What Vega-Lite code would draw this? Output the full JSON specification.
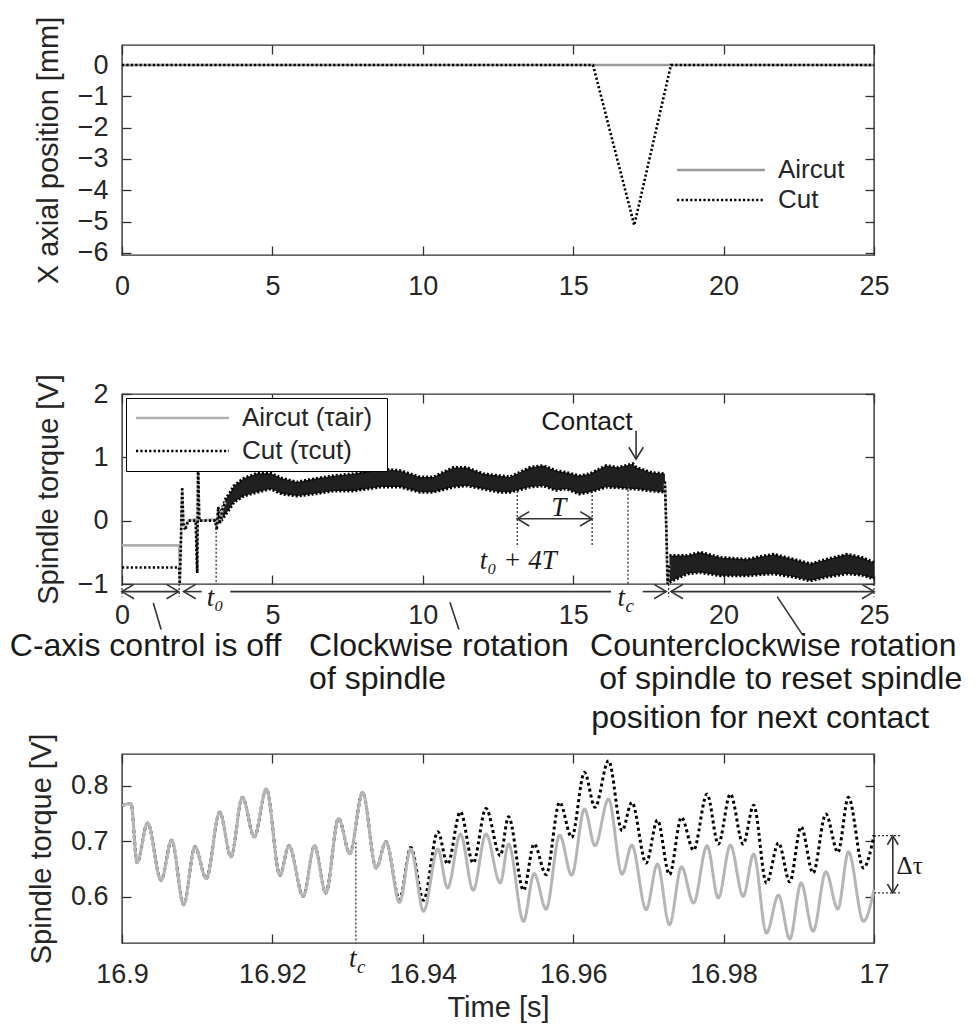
{
  "$schema": "https://vega.github.io/schema/vega-lite/v6.json",
  "background": "white",
  "padding": {"left": 9, "top": 15, "right": 5, "bottom": 5},
  "spacing": -4,
  "config": {
    "font": "Liberation Sans",
    "view": {"stroke": "#303030", "strokeWidth": 1.4},
    "axis": {
      "domain": false, "grid": false, "ticks": true,
      "tickColor": "#303030", "tickWidth": 1.3, "tickSize": -9,
      "labelFont": "Liberation Sans", "labelFontSize": 27, "labelColor": "#262626",
      "labelFlush": false, "labelOverlap": false, "labelBound": false,
      "titleFont": "Liberation Sans", "titleFontSize": 29, "titleFontWeight": "normal", "titleColor": "#262626"
    },
    "axisX": {"labelPadding": 27},
    "axisY": {"labelPadding": 23, "titlePadding": 14},
    "legend": {"labelFont": "Liberation Sans", "labelColor": "#262626"}
  },
  "resolve": {"scale": {"x": "independent", "y": "independent", "color": "independent", "strokeDash": "independent"}},
  "datasets": {
    "p1": [
      {"t": 0, "pos": 0, "s": "Aircut"}, {"t": 25, "pos": 0, "s": "Aircut"},
      {"t": 0, "pos": 0, "s": "Cut"}, {"t": 15.66, "pos": 0, "s": "Cut"}, {"t": 17.03, "pos": -5.12, "s": "Cut"}, {"t": 18.25, "pos": 0, "s": "Cut"}, {"t": 25, "pos": 0, "s": "Cut"}
    ],
    "p2lines": [
      {"t": 0, "v": -0.39, "s": "Aircut", "seg": "a"}, {"t": 1.9, "v": -0.39, "s": "Aircut", "seg": "a"}, {"t": 1.92, "v": -0.98, "s": "Aircut", "seg": "a"}, {"t": 1.96, "v": -0.3, "s": "Aircut", "seg": "a"}, {"t": 2.0, "v": 0.5, "s": "Aircut", "seg": "a"}, {"t": 2.04, "v": -0.05, "s": "Aircut", "seg": "a"}, {"t": 2.1, "v": -0.1, "s": "Aircut", "seg": "a"}, {"t": 2.2, "v": 0.0, "s": "Aircut", "seg": "a"}, {"t": 2.45, "v": 0.02, "s": "Aircut", "seg": "a"}, {"t": 2.5, "v": -0.8, "s": "Aircut", "seg": "a"}, {"t": 2.53, "v": 0.87, "s": "Aircut", "seg": "a"}, {"t": 2.57, "v": 0.0, "s": "Aircut", "seg": "a"}, {"t": 3.1, "v": 0.02, "s": "Aircut", "seg": "a"}, {"t": 3.15, "v": -0.1, "s": "Aircut", "seg": "a"}, {"t": 3.2, "v": 0.2, "s": "Aircut", "seg": "a"}, {"t": 3.25, "v": -0.05, "s": "Aircut", "seg": "a"}, {"t": 3.35, "v": 0.2, "s": "Aircut", "seg": "a"}, {"t": 3.45, "v": 0.3, "s": "Aircut", "seg": "a"},
      {"t": 18.05, "v": 0.6, "s": "Aircut", "seg": "b"}, {"t": 18.1, "v": -0.2, "s": "Aircut", "seg": "b"}, {"t": 18.13, "v": -1.0, "s": "Aircut", "seg": "b"}, {"t": 18.2, "v": -0.7, "s": "Aircut", "seg": "b"},
      {"t": 0, "v": -0.74, "s": "Cut", "seg": "a"}, {"t": 1.9, "v": -0.74, "s": "Cut", "seg": "a"}, {"t": 1.92, "v": -1.0, "s": "Cut", "seg": "a"}, {"t": 1.96, "v": -0.3, "s": "Cut", "seg": "a"}, {"t": 2.0, "v": 0.53, "s": "Cut", "seg": "a"}, {"t": 2.04, "v": -0.05, "s": "Cut", "seg": "a"}, {"t": 2.1, "v": -0.15, "s": "Cut", "seg": "a"}, {"t": 2.2, "v": 0.0, "s": "Cut", "seg": "a"}, {"t": 2.45, "v": 0.0, "s": "Cut", "seg": "a"}, {"t": 2.5, "v": -0.83, "s": "Cut", "seg": "a"}, {"t": 2.53, "v": 0.88, "s": "Cut", "seg": "a"}, {"t": 2.57, "v": 0.0, "s": "Cut", "seg": "a"}, {"t": 3.1, "v": 0.0, "s": "Cut", "seg": "a"}, {"t": 3.15, "v": -0.15, "s": "Cut", "seg": "a"}, {"t": 3.2, "v": 0.22, "s": "Cut", "seg": "a"}, {"t": 3.25, "v": -0.05, "s": "Cut", "seg": "a"}, {"t": 3.35, "v": 0.2, "s": "Cut", "seg": "a"}, {"t": 3.45, "v": 0.3, "s": "Cut", "seg": "a"},
      {"t": 18.05, "v": 0.62, "s": "Cut", "seg": "b"}, {"t": 18.1, "v": -0.2, "s": "Cut", "seg": "b"}, {"t": 18.14, "v": -1.0, "s": "Cut", "seg": "b"}, {"t": 18.2, "v": -0.7, "s": "Cut", "seg": "b"}
    ],
    "p2band": [
      {"t": 3.3, "lo": 0.0, "hi": 0.15, "seg": "a"}, {"t": 3.45, "lo": 0.1, "hi": 0.35, "seg": "a"}, {"t": 3.6, "lo": 0.2, "hi": 0.45, "seg": "a"}, {"t": 3.72, "lo": 0.29, "hi": 0.55, "seg": "a"}, {"t": 4.05, "lo": 0.39, "hi": 0.67, "seg": "a"}, {"t": 4.5, "lo": 0.45, "hi": 0.75, "seg": "a"}, {"t": 4.94, "lo": 0.5, "hi": 0.75, "seg": "a"}, {"t": 5.32, "lo": 0.42, "hi": 0.67, "seg": "a"}, {"t": 5.82, "lo": 0.39, "hi": 0.61, "seg": "a"}, {"t": 6.37, "lo": 0.42, "hi": 0.66, "seg": "a"}, {"t": 7.04, "lo": 0.47, "hi": 0.71, "seg": "a"}, {"t": 7.7, "lo": 0.47, "hi": 0.74, "seg": "a"}, {"t": 8.59, "lo": 0.53, "hi": 0.82, "seg": "a"}, {"t": 9.25, "lo": 0.53, "hi": 0.79, "seg": "a"}, {"t": 9.91, "lo": 0.45, "hi": 0.69, "seg": "a"}, {"t": 10.35, "lo": 0.45, "hi": 0.69, "seg": "a"}, {"t": 11.02, "lo": 0.53, "hi": 0.84, "seg": "a"}, {"t": 11.46, "lo": 0.55, "hi": 0.84, "seg": "a"}, {"t": 12.01, "lo": 0.5, "hi": 0.74, "seg": "a"}, {"t": 12.56, "lo": 0.45, "hi": 0.71, "seg": "a"}, {"t": 12.9, "lo": 0.45, "hi": 0.69, "seg": "a"}, {"t": 13.56, "lo": 0.53, "hi": 0.84, "seg": "a"}, {"t": 14.0, "lo": 0.55, "hi": 0.87, "seg": "a"}, {"t": 14.43, "lo": 0.48, "hi": 0.79, "seg": "a"}, {"t": 14.78, "lo": 0.5, "hi": 0.76, "seg": "a"}, {"t": 15.2, "lo": 0.42, "hi": 0.71, "seg": "a"}, {"t": 15.55, "lo": 0.45, "hi": 0.74, "seg": "a"}, {"t": 16.1, "lo": 0.53, "hi": 0.87, "seg": "a"}, {"t": 16.5, "lo": 0.52, "hi": 0.84, "seg": "a"}, {"t": 16.98, "lo": 0.5, "hi": 0.9, "seg": "a"}, {"t": 17.1, "lo": 0.5, "hi": 0.84, "seg": "a"}, {"t": 17.6, "lo": 0.47, "hi": 0.76, "seg": "a"}, {"t": 18.05, "lo": 0.45, "hi": 0.74, "seg": "a"},
      {"t": 18.2, "lo": -0.97, "hi": -0.55, "seg": "b"}, {"t": 18.3, "lo": -0.95, "hi": -0.55, "seg": "b"}, {"t": 18.79, "lo": -0.84, "hi": -0.55, "seg": "b"}, {"t": 19.23, "lo": -0.82, "hi": -0.5, "seg": "b"}, {"t": 19.9, "lo": -0.87, "hi": -0.58, "seg": "b"}, {"t": 20.78, "lo": -0.87, "hi": -0.61, "seg": "b"}, {"t": 21.3, "lo": -0.85, "hi": -0.56, "seg": "b"}, {"t": 21.67, "lo": -0.84, "hi": -0.53, "seg": "b"}, {"t": 22.33, "lo": -0.89, "hi": -0.61, "seg": "b"}, {"t": 22.88, "lo": -0.95, "hi": -0.68, "seg": "b"}, {"t": 23.44, "lo": -0.89, "hi": -0.61, "seg": "b"}, {"t": 24.1, "lo": -0.84, "hi": -0.53, "seg": "b"}, {"t": 24.6, "lo": -0.86, "hi": -0.58, "seg": "b"}, {"t": 25.0, "lo": -0.92, "hi": -0.66, "seg": "b"}
    ],
    "p2dot": [
      {"x": 3.13, "y": -0.05, "y2": -1}, {"x": 13.14, "y": 0.47, "y2": -0.42}, {"x": 15.63, "y": 0.47, "y2": -0.42}, {"x": 16.82, "y": 0.55, "y2": -1},
      {"x": 0, "y": -1, "y2": -1.2}, {"x": 1.9, "y": -1, "y2": -1.2}, {"x": 18.17, "y": -1, "y2": -1.2}, {"x": 25, "y": -1, "y2": -1.2}
    ],
    "p2sol": [
      {"x": 0, "x2": 1.88, "y": -1.12, "y2": -1.12}, {"x": 2.05, "x2": 2.65, "y": -1.12, "y2": -1.12}, {"x": 3.6, "x2": 16.26, "y": -1.12, "y2": -1.12}, {"x": 17.31, "x2": 18.09, "y": -1.12, "y2": -1.12}, {"x": 18.25, "x2": 25, "y": -1.12, "y2": -1.12},
      {"x": 13.14, "x2": 15.63, "y": 0.03, "y2": 0.03}, {"x": 17.09, "x2": 17.09, "y": 1.42, "y2": 0.98},
      {"x": 1.04, "x2": 1.3, "y": -1.3, "y2": -1.72}, {"x": 10.9, "x2": 11.2, "y": -1.29, "y2": -1.72}, {"x": 21.78, "x2": 22.62, "y": -1.2, "y2": -1.8}
    ],
    "p2heads": [
      {"x": 0, "y": -1.12, "dir": "left"}, {"x": 1.88, "y": -1.12, "dir": "right"}, {"x": 2.05, "y": -1.12, "dir": "left"}, {"x": 18.09, "y": -1.12, "dir": "right"}, {"x": 18.25, "y": -1.12, "dir": "left"}, {"x": 25, "y": -1.12, "dir": "right"},
      {"x": 13.14, "y": 0.03, "dir": "left"}, {"x": 15.63, "y": 0.03, "dir": "right"}, {"x": 17.09, "y": 0.97, "dir": "down"}
    ],
    "p2big": [
      {"x": -3.73, "y": -2.13, "label": "C-axis control is off"},
      {"x": 6.22, "y": -2.13, "label": "Clockwise rotation"},
      {"x": 6.22, "y": -2.665, "label": "of spindle"},
      {"x": 15.56, "y": -2.13, "label": "Counterclockwise rotation"},
      {"x": 15.87, "y": -2.665, "label": "of spindle to reset spindle"},
      {"x": 15.6, "y": -3.28, "label": "position for next contact"}
    ],
    "p2math": [
      {"x": 2.82, "y": -1.342, "label": "t₀", "sub": ""},
      {"x": 14.27, "y": 0.079, "label": "T", "sub": ""},
      {"x": 11.89, "y": -0.763, "label": "t₀ + 4T", "sub": ""},
      {"x": 16.47, "y": -1.342, "label": "t", "sub": "c"}
    ],
    "p3": [
      {"t": 16.9, "v": 0.764, "s": "Cut"}, {"t": 16.9012, "v": 0.768, "s": "Cut"}, {"t": 16.902, "v": 0.6615, "s": "Cut"}, {"t": 16.9034, "v": 0.733, "s": "Cut"}, {"t": 16.9052, "v": 0.63, "s": "Cut"}, {"t": 16.9066, "v": 0.702, "s": "Cut"}, {"t": 16.9082, "v": 0.586, "s": "Cut"}, {"t": 16.9097, "v": 0.69, "s": "Cut"}, {"t": 16.9112, "v": 0.633, "s": "Cut"}, {"t": 16.913, "v": 0.752, "s": "Cut"}, {"t": 16.9145, "v": 0.672, "s": "Cut"}, {"t": 16.916, "v": 0.779, "s": "Cut"}, {"t": 16.9176, "v": 0.708, "s": "Cut"}, {"t": 16.9192, "v": 0.794, "s": "Cut"}, {"t": 16.921, "v": 0.639, "s": "Cut"}, {"t": 16.9222, "v": 0.692, "s": "Cut"}, {"t": 16.9241, "v": 0.601, "s": "Cut"}, {"t": 16.9256, "v": 0.692, "s": "Cut"}, {"t": 16.9271, "v": 0.607, "s": "Cut"}, {"t": 16.9288, "v": 0.741, "s": "Cut"}, {"t": 16.9303, "v": 0.678, "s": "Cut"}, {"t": 16.932, "v": 0.788, "s": "Cut"}, {"t": 16.9338, "v": 0.652, "s": "Cut"}, {"t": 16.9351, "v": 0.699, "s": "Cut"},
      {"t": 16.9369, "v": 0.595, "s": "Cut"}, {"t": 16.9384, "v": 0.689, "s": "Cut"}, {"t": 16.9401, "v": 0.594, "s": "Cut"}, {"t": 16.942, "v": 0.717, "s": "Cut"}, {"t": 16.9433, "v": 0.659, "s": "Cut"}, {"t": 16.945, "v": 0.753, "s": "Cut"}, {"t": 16.9467, "v": 0.661, "s": "Cut"}, {"t": 16.9484, "v": 0.759, "s": "Cut"}, {"t": 16.9503, "v": 0.674, "s": "Cut"}, {"t": 16.9514, "v": 0.744, "s": "Cut"}, {"t": 16.9534, "v": 0.612, "s": "Cut"}, {"t": 16.9548, "v": 0.695, "s": "Cut"}, {"t": 16.9564, "v": 0.64, "s": "Cut"}, {"t": 16.9582, "v": 0.77, "s": "Cut"}, {"t": 16.9598, "v": 0.707, "s": "Cut"}, {"t": 16.9615, "v": 0.824, "s": "Cut"}, {"t": 16.9629, "v": 0.761, "s": "Cut"}, {"t": 16.9647, "v": 0.845, "s": "Cut"}, {"t": 16.9665, "v": 0.719, "s": "Cut"}, {"t": 16.9678, "v": 0.77, "s": "Cut"}, {"t": 16.9697, "v": 0.661, "s": "Cut"}, {"t": 16.9712, "v": 0.738, "s": "Cut"}, {"t": 16.9728, "v": 0.64, "s": "Cut"}, {"t": 16.9744, "v": 0.743, "s": "Cut"}, {"t": 16.976, "v": 0.684, "s": "Cut"}, {"t": 16.9778, "v": 0.785, "s": "Cut"}, {"t": 16.9793, "v": 0.695, "s": "Cut"}, {"t": 16.9809, "v": 0.785, "s": "Cut"}, {"t": 16.9826, "v": 0.695, "s": "Cut"}, {"t": 16.984, "v": 0.765, "s": "Cut"}, {"t": 16.9857, "v": 0.625, "s": "Cut"}, {"t": 16.9873, "v": 0.697, "s": "Cut"}, {"t": 16.9888, "v": 0.627, "s": "Cut"}, {"t": 16.9903, "v": 0.726, "s": "Cut"}, {"t": 16.9919, "v": 0.643, "s": "Cut"}, {"t": 16.9936, "v": 0.749, "s": "Cut"}, {"t": 16.9952, "v": 0.68, "s": "Cut"}, {"t": 16.9966, "v": 0.779, "s": "Cut"}, {"t": 16.9986, "v": 0.652, "s": "Cut"}, {"t": 17.0, "v": 0.711, "s": "Cut"},
      {"t": 16.9, "v": 0.764, "s": "Aircut"}, {"t": 16.9012, "v": 0.768, "s": "Aircut"}, {"t": 16.902, "v": 0.6615, "s": "Aircut"}, {"t": 16.9034, "v": 0.733, "s": "Aircut"}, {"t": 16.9052, "v": 0.63, "s": "Aircut"}, {"t": 16.9066, "v": 0.702, "s": "Aircut"}, {"t": 16.9082, "v": 0.586, "s": "Aircut"}, {"t": 16.9097, "v": 0.69, "s": "Aircut"}, {"t": 16.9112, "v": 0.633, "s": "Aircut"}, {"t": 16.913, "v": 0.752, "s": "Aircut"}, {"t": 16.9145, "v": 0.672, "s": "Aircut"}, {"t": 16.916, "v": 0.779, "s": "Aircut"}, {"t": 16.9176, "v": 0.708, "s": "Aircut"}, {"t": 16.9192, "v": 0.794, "s": "Aircut"}, {"t": 16.921, "v": 0.639, "s": "Aircut"}, {"t": 16.9222, "v": 0.692, "s": "Aircut"}, {"t": 16.9241, "v": 0.601, "s": "Aircut"}, {"t": 16.9256, "v": 0.692, "s": "Aircut"}, {"t": 16.9271, "v": 0.607, "s": "Aircut"}, {"t": 16.9288, "v": 0.741, "s": "Aircut"}, {"t": 16.9303, "v": 0.678, "s": "Aircut"}, {"t": 16.932, "v": 0.788, "s": "Aircut"}, {"t": 16.9338, "v": 0.652, "s": "Aircut"}, {"t": 16.9351, "v": 0.699, "s": "Aircut"},
      {"t": 16.9369, "v": 0.59, "s": "Aircut"}, {"t": 16.9384, "v": 0.686, "s": "Aircut"}, {"t": 16.9401, "v": 0.574, "s": "Aircut"}, {"t": 16.942, "v": 0.686, "s": "Aircut"}, {"t": 16.9433, "v": 0.616, "s": "Aircut"}, {"t": 16.945, "v": 0.713, "s": "Aircut"}, {"t": 16.9467, "v": 0.612, "s": "Aircut"}, {"t": 16.9484, "v": 0.713, "s": "Aircut"}, {"t": 16.9503, "v": 0.625, "s": "Aircut"}, {"t": 16.9514, "v": 0.695, "s": "Aircut"}, {"t": 16.9534, "v": 0.556, "s": "Aircut"}, {"t": 16.9548, "v": 0.642, "s": "Aircut"}, {"t": 16.9564, "v": 0.578, "s": "Aircut"}, {"t": 16.9582, "v": 0.711, "s": "Aircut"}, {"t": 16.9598, "v": 0.639, "s": "Aircut"}, {"t": 16.9615, "v": 0.758, "s": "Aircut"}, {"t": 16.9629, "v": 0.692, "s": "Aircut"}, {"t": 16.9647, "v": 0.776, "s": "Aircut"}, {"t": 16.9665, "v": 0.641, "s": "Aircut"}, {"t": 16.9678, "v": 0.693, "s": "Aircut"}, {"t": 16.9697, "v": 0.577, "s": "Aircut"}, {"t": 16.9712, "v": 0.659, "s": "Aircut"}, {"t": 16.9728, "v": 0.55, "s": "Aircut"}, {"t": 16.9744, "v": 0.654, "s": "Aircut"}, {"t": 16.976, "v": 0.589, "s": "Aircut"}, {"t": 16.9778, "v": 0.692, "s": "Aircut"}, {"t": 16.9793, "v": 0.598, "s": "Aircut"}, {"t": 16.9809, "v": 0.693, "s": "Aircut"}, {"t": 16.9826, "v": 0.601, "s": "Aircut"}, {"t": 16.984, "v": 0.677, "s": "Aircut"}, {"t": 16.9857, "v": 0.535, "s": "Aircut"}, {"t": 16.9873, "v": 0.603, "s": "Aircut"}, {"t": 16.9888, "v": 0.524, "s": "Aircut"}, {"t": 16.9903, "v": 0.625, "s": "Aircut"}, {"t": 16.9919, "v": 0.538, "s": "Aircut"}, {"t": 16.9936, "v": 0.645, "s": "Aircut"}, {"t": 16.9952, "v": 0.578, "s": "Aircut"}, {"t": 16.9966, "v": 0.681, "s": "Aircut"}, {"t": 16.9986, "v": 0.556, "s": "Aircut"}, {"t": 17.0, "v": 0.613, "s": "Aircut"}
    ],
    "p3dot": [
      {"x": 16.9311, "x2": 16.9311, "y": 0.698, "y2": 0.517},
      {"x": 17.0, "x2": 17.0037, "y": 0.71, "y2": 0.71},
      {"x": 17.0, "x2": 17.0037, "y": 0.607, "y2": 0.607}
    ],
    "p3sol": [{"x": 17.0025, "x2": 17.0025, "y": 0.706, "y2": 0.611}],
    "p3heads": [{"x": 17.0025, "y": 0.71, "dir": "up"}, {"x": 17.0025, "y": 0.607, "dir": "down"}],
    "p3math": [{"x": 16.9302, "y": 0.4747, "label": "t", "sub": "c"}]
  },
  "vconcat": [
    {
      "width": 752, "height": 210,
      "data": {"name": "p1"},
      "layer": [
        {
          "mark": {"type": "line", "strokeWidth": 2.6, "strokeCap": "butt"},
          "encoding": {
            "x": {"field": "t", "type": "quantitative", "scale": {"domain": [0, 25], "nice": false, "zero": false},
                  "axis": {"orient": "bottom", "values": [0, 5, 10, 15, 20, 25], "title": " ", "titlePadding": 67, "titleFontSize": 10}},
            "y": {"field": "pos", "type": "quantitative", "scale": {"domain": [-6.07, 0.64], "nice": false, "zero": false},
                  "axis": {"orient": "left", "values": [-6, -5, -4, -3, -2, -1, 0], "title": "X axial position [mm]"}},
            "color": {"field": "s", "type": "nominal", "scale": {"domain": ["Aircut", "Cut"], "range": ["#9a9a9a", "#000000"]},
                      "legend": {"title": null, "orient": "none", "legendX": 552, "legendY": 112, "padding": 0, "symbolType": "M -1 0 L 7.8 0", "symbolSize": 400, "symbolStrokeWidth": 2.6, "labelFontSize": 26, "labelOffset": 78, "rowPadding": 4}},
            "strokeDash": {"field": "s", "type": "nominal", "scale": {"domain": ["Aircut", "Cut"], "range": [[1, 0], [2.2, 2.2]]},
                      "legend": {"title": null, "orient": "none", "legendX": 552, "legendY": 112, "padding": 0, "symbolType": "M -1 0 L 7.8 0", "symbolSize": 400, "symbolStrokeWidth": 2.6, "labelFontSize": 26, "labelOffset": 78, "rowPadding": 4}}
          }
        },
        {
          "mark": {"type": "point", "opacity": 0},
          "encoding": {
            "x": {"field": "t", "type": "quantitative", "axis": {"orient": "top", "labels": false, "title": null, "values": [0, 5, 10, 15, 20, 25]}},
            "y": {"field": "pos", "type": "quantitative", "axis": {"orient": "right", "labels": false, "title": null, "values": [-6, -5, -4, -3, -2, -1, 0]}}
          }
        }
      ]
    },
    {
      "width": 752, "height": 190,
      "layer": [
        {
          "data": {"name": "p2band"},
          "mark": {"type": "area", "color": "#141414", "opacity": 0.95},
          "encoding": {
            "x": {"field": "t", "type": "quantitative", "scale": {"domain": [0, 25], "nice": false, "zero": false},
                  "axis": {"orient": "bottom", "values": [0, 5, 10, 15, 20, 25], "title": null}},
            "y": {"field": "lo", "type": "quantitative", "scale": {"domain": [-1, 2], "nice": false, "zero": false},
                  "axis": {"orient": "left", "values": [-1, 0, 1, 2], "title": "Spindle torque [V]"}},
            "y2": {"field": "hi"},
            "detail": {"field": "seg"}
          }
        },
        {
          "data": {"name": "p2band"},
          "mark": {"type": "line", "color": "#000000", "strokeWidth": 3, "strokeDash": [2, 2]},
          "encoding": {
            "x": {"field": "t", "type": "quantitative", "axis": null},
            "y": {"field": "hi", "type": "quantitative", "axis": null},
            "detail": {"field": "seg"}
          }
        },
        {
          "data": {"name": "p2band"},
          "mark": {"type": "line", "color": "#000000", "strokeWidth": 3, "strokeDash": [2, 2]},
          "encoding": {
            "x": {"field": "t", "type": "quantitative", "axis": null},
            "y": {"field": "lo", "type": "quantitative", "axis": null},
            "detail": {"field": "seg"}
          }
        },
        {
          "data": {"name": "p2lines"},
          "mark": {"type": "line", "strokeWidth": 2.6, "strokeCap": "butt"},
          "encoding": {
            "x": {"field": "t", "type": "quantitative", "axis": null},
            "y": {"field": "v", "type": "quantitative", "axis": null},
            "detail": {"field": "seg"},
            "color": {"field": "s", "type": "nominal", "scale": {"domain": ["Aircut", "Cut"], "range": ["#b0b0b0", "#000000"]},
                      "legend": {"title": null, "orient": "top-left", "offset": 4, "strokeColor": "#000000", "fillColor": "#ffffff", "padding": 7, "symbolType": "M -1 0 L 8.3 0", "symbolSize": 400, "symbolStrokeWidth": 2.6, "labelFontSize": 26, "labelOffset": 83, "rowPadding": 7,
                                 "labelExpr": "datum.label == 'Aircut' ? 'Aircut  (τair)' : 'Cut  (τcut)'"}},
            "strokeDash": {"field": "s", "type": "nominal", "scale": {"domain": ["Aircut", "Cut"], "range": [[1, 0], [2.2, 2.2]]},
                      "legend": {"title": null, "orient": "top-left", "offset": 4, "strokeColor": "#000000", "fillColor": "#ffffff", "padding": 7, "symbolType": "M -1 0 L 8.3 0", "symbolSize": 400, "symbolStrokeWidth": 2.6, "labelFontSize": 26, "labelOffset": 83, "rowPadding": 7,
                                 "labelExpr": "datum.label == 'Aircut' ? 'Aircut  (τair)' : 'Cut  (τcut)'"}}
          }
        },
        {
          "data": {"name": "p2band"},
          "mark": {"type": "point", "opacity": 0},
          "encoding": {
            "x": {"field": "t", "type": "quantitative", "axis": {"orient": "top", "labels": false, "title": null, "values": [0, 5, 10, 15, 20, 25]}},
            "y": {"field": "lo", "type": "quantitative", "axis": {"orient": "right", "labels": false, "title": null, "values": [-1, 0, 1, 2]}}
          }
        },
        {
          "data": {"name": "p2dot"},
          "mark": {"type": "rule", "color": "#333333", "strokeWidth": 1.3, "strokeDash": [2, 2]},
          "encoding": {
            "x": {"field": "x", "type": "quantitative", "axis": null},
            "y": {"field": "y", "type": "quantitative", "axis": null},
            "y2": {"field": "y2"}
          }
        },
        {
          "data": {"name": "p2sol"},
          "mark": {"type": "rule", "color": "#333333", "strokeWidth": 1.6},
          "encoding": {
            "x": {"field": "x", "type": "quantitative", "axis": null},
            "x2": {"field": "x2"},
            "y": {"field": "y", "type": "quantitative", "axis": null},
            "y2": {"field": "y2"}
          }
        },
        {
          "data": {"name": "p2heads"},
          "mark": {"type": "point", "filled": false, "color": "#333333", "strokeWidth": 1.6, "size": 256, "opacity": 1},
          "encoding": {
            "x": {"field": "x", "type": "quantitative", "axis": null},
            "y": {"field": "y", "type": "quantitative", "axis": null},
            "shape": {"field": "dir", "type": "nominal", "legend": null,
                      "scale": {"domain": ["left", "right", "down", "up"], "range": ["M 1.5 -0.9 L 0 0 L 1.5 0.9", "M -1.5 -0.9 L 0 0 L -1.5 0.9", "M -0.9 -1.5 L 0 0 L 0.9 -1.5", "M -0.9 1.5 L 0 0 L 0.9 1.5"]}}
          }
        },
        {
          "data": {"name": "p2big"},
          "mark": {"type": "text", "align": "left", "baseline": "alphabetic", "font": "Liberation Sans", "fontSize": 32, "color": "#1a1a1a"},
          "encoding": {
            "x": {"field": "x", "type": "quantitative", "axis": null},
            "y": {"field": "y", "type": "quantitative", "axis": null},
            "text": {"field": "label"}
          }
        },
        {
          "data": {"values": [{"x": 13.94, "y": 1.432, "label": "Contact"}]},
          "mark": {"type": "text", "align": "left", "baseline": "alphabetic", "font": "Liberation Sans", "fontSize": 26.5, "color": "#1a1a1a"},
          "encoding": {
            "x": {"field": "x", "type": "quantitative", "axis": null},
            "y": {"field": "y", "type": "quantitative", "axis": null},
            "text": {"field": "label"}
          }
        },
        {
          "data": {"name": "p2math"},
          "mark": {"type": "text", "align": "left", "baseline": "alphabetic", "font": "Liberation Serif", "fontStyle": "italic", "fontSize": 27, "color": "#1a1a1a"},
          "encoding": {
            "x": {"field": "x", "type": "quantitative", "axis": null},
            "y": {"field": "y", "type": "quantitative", "axis": null},
            "text": {"field": "label"}
          }
        },
        {
          "data": {"name": "p2math"},
          "mark": {"type": "text", "align": "left", "baseline": "alphabetic", "font": "Liberation Serif", "fontStyle": "italic", "fontSize": 19, "dx": 8, "dy": 6, "color": "#1a1a1a"},
          "encoding": {
            "x": {"field": "x", "type": "quantitative", "axis": null},
            "y": {"field": "y", "type": "quantitative", "axis": null},
            "text": {"field": "sub"}
          }
        }
      ]
    },
    {
      "width": 752, "height": 189,
      "layer": [
        {
          "data": {"name": "p3"},
          "mark": {"type": "line", "strokeWidth": 3, "strokeCap": "butt", "interpolate": "monotone"},
          "encoding": {
            "x": {"field": "t", "type": "quantitative", "scale": {"domain": [16.9, 17], "nice": false, "zero": false},
                  "axis": {"orient": "bottom", "values": [16.9, 16.92, 16.94, 16.96, 16.98, 17], "format": ".2~f", "title": "Time [s]", "titlePadding": 6}},
            "y": {"field": "v", "type": "quantitative", "scale": {"domain": [0.517, 0.857], "nice": false, "zero": false},
                  "axis": {"orient": "left", "values": [0.6, 0.7, 0.8], "format": ".1f", "title": "Spindle torque [V]"}},
            "color": {"field": "s", "type": "nominal", "scale": {"domain": ["Aircut", "Cut"], "range": ["#b5b5b5", "#000000"]}, "legend": null},
            "strokeDash": {"field": "s", "type": "nominal", "scale": {"domain": ["Aircut", "Cut"], "range": [[1, 0], [3, 3]]}, "legend": null}
          }
        },
        {
          "data": {"name": "p3"},
          "mark": {"type": "point", "opacity": 0},
          "encoding": {
            "x": {"field": "t", "type": "quantitative", "axis": {"orient": "top", "labels": false, "title": null, "values": [16.9, 16.92, 16.94, 16.96, 16.98, 17]}},
            "y": {"field": "v", "type": "quantitative", "axis": {"orient": "right", "labels": false, "title": null, "values": [0.6, 0.7, 0.8]}}
          }
        },
        {
          "data": {"name": "p3dot"},
          "mark": {"type": "rule", "color": "#333333", "strokeWidth": 1.3, "strokeDash": [2, 2]},
          "encoding": {
            "x": {"field": "x", "type": "quantitative", "axis": null},
            "x2": {"field": "x2"},
            "y": {"field": "y", "type": "quantitative", "axis": null},
            "y2": {"field": "y2"}
          }
        },
        {
          "data": {"name": "p3sol"},
          "mark": {"type": "rule", "color": "#333333", "strokeWidth": 1.6},
          "encoding": {
            "x": {"field": "x", "type": "quantitative", "axis": null},
            "x2": {"field": "x2"},
            "y": {"field": "y", "type": "quantitative", "axis": null},
            "y2": {"field": "y2"}
          }
        },
        {
          "data": {"name": "p3heads"},
          "mark": {"type": "point", "filled": false, "color": "#333333", "strokeWidth": 1.6, "size": 144, "opacity": 1},
          "encoding": {
            "x": {"field": "x", "type": "quantitative", "axis": null},
            "y": {"field": "y", "type": "quantitative", "axis": null},
            "shape": {"field": "dir", "type": "nominal", "legend": null,
                      "scale": {"domain": ["left", "right", "down", "up"], "range": ["M 1.5 -0.9 L 0 0 L 1.5 0.9", "M -1.5 -0.9 L 0 0 L -1.5 0.9", "M -0.9 -1.5 L 0 0 L 0.9 -1.5", "M -0.9 1.5 L 0 0 L 0.9 1.5"]}}
          }
        },
        {
          "data": {"name": "p3math"},
          "mark": {"type": "text", "align": "left", "baseline": "alphabetic", "font": "Liberation Serif", "fontStyle": "italic", "fontSize": 27, "color": "#1a1a1a"},
          "encoding": {
            "x": {"field": "x", "type": "quantitative", "axis": null},
            "y": {"field": "y", "type": "quantitative", "axis": null},
            "text": {"field": "label"}
          }
        },
        {
          "data": {"name": "p3math"},
          "mark": {"type": "text", "align": "left", "baseline": "alphabetic", "font": "Liberation Serif", "fontStyle": "italic", "fontSize": 19, "dx": 8, "dy": 6, "color": "#1a1a1a"},
          "encoding": {
            "x": {"field": "x", "type": "quantitative", "axis": null},
            "y": {"field": "y", "type": "quantitative", "axis": null},
            "text": {"field": "sub"}
          }
        },
        {
          "data": {"values": [{"x": 17.003, "y": 0.641, "label": "Δτ"}]},
          "mark": {"type": "text", "align": "left", "baseline": "alphabetic", "font": "Liberation Serif", "fontSize": 25, "color": "#1a1a1a"},
          "encoding": {
            "x": {"field": "x", "type": "quantitative", "axis": null},
            "y": {"field": "y", "type": "quantitative", "axis": null},
            "text": {"field": "label"}
          }
        }
      ]
    }
  ]
}
